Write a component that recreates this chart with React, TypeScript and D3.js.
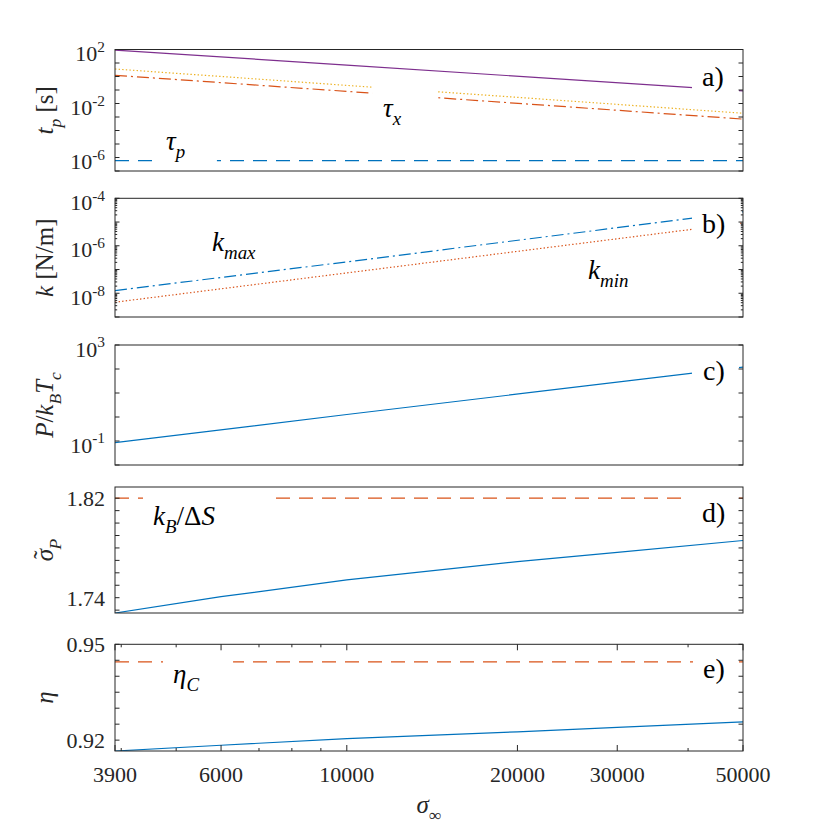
import React from "react";
import * as d3 from "d3";

const W = 831;
const H = 831;
const X_LEFT = 115;
const X_RIGHT = 743;

const BLUE = "#0072BD";
const ORANGE = "#D95319";
const YELLOW = "#EDB120";
const PURPLE = "#7E2F8E";
const AXIS = "#262626";
const FONT = "'Liberation Serif', 'Times New Roman', 'DejaVu Serif', serif";

const SIGMA_DOMAIN = [3900, 50000];
const SIGMA_TICKS = [3900, 6000, 10000, 20000, 30000, 50000];
const SIGMA_MINOR = [4000, 5000, 7000, 8000, 9000, 40000];

// a) time scales
const sigmaA = [3900, 10000, 50000];
const tauTotal = [91, 7.0, 0.085];
const tauXUpper = [3.6, 0.22, 0.0019];
const tauXLower = [1.23, 0.079, 0.0007];
const tauP = [5.8e-7, 5.8e-7, 5.8e-7];

// b) stiffness
const sigmaB = [3900, 10000, 50000];
const kMax = [1.3e-8, 2.1e-7, 2.7e-5];
const kMin = [4.2e-9, 7.2e-8, 9.2e-6];

// c) power
const sigmaC = [3900, 10000, 50000];
const power = [0.085, 1.27, 120];

// d) sigma_P and e) efficiency
const sigmaDE = [3900, 6000, 10000, 20000, 30000, 50000];
const sigmaP = [1.7277, 1.7408, 1.7543, 1.769, 1.7764, 1.786];
const kBoverDS = [1.82, 1.82, 1.82, 1.82, 1.82, 1.82];
const eta = [0.9166, 0.9184, 0.9205, 0.9226, 0.924, 0.9257];
const etaC = [0.9445, 0.9445, 0.9445, 0.9445, 0.9445, 0.9445];

// sigma ranges hidden behind the white label boxes
const GAP_TAU_P = [[4550, 5900]];
const GAP_TAU_X = [[11080, 14370]];
const GAP_CORNER = [[40640, 49200]];
const GAP_KB_DS = [[4370, 7260], [40320, 49200]];
const GAP_ETA_C = [[4740, 6300], [40810, 49200]];

// [text, style, dx]
type Part = [string, string?, number?];

const mathText = (sel: any, parts: Part[], size: number) => {
  let shift = 0;
  parts.forEach(([t, s = "r", dx = 0]) => {
    const sub = s === "sub" || s === "subr";
    const small = sub || s === "sup";
    const target = sub ? size * 0.3 : s === "sup" ? -size * 0.42 : s === "acc" ? -size * 0.08 : 0;
    sel
      .append("tspan")
      .attr("dx", dx)
      .attr("dy", target - shift)
      .attr("font-size", small ? size * 0.7 : size)
      .attr("font-style", s === "i" || s === "sub" ? "italic" : "normal")
      .text(t);
    shift = target;
  });
};

const App = () => {
  const ref = React.useRef<SVGSVGElement>(null);

  React.useEffect(() => {
    const svg = d3.select(ref.current!);
    svg.selectAll("*").remove();

    const x = d3.scaleLog().domain(SIGMA_DOMAIN).range([X_LEFT, X_RIGHT]);

    const zip = (xs: number[], ys: number[]) => xs.map((s, i) => [s, ys[i]]);

    const panels = [
      {
        id: "a",
        top: 49.5,
        bottom: 171,
        y: d3.scaleLog().domain([1e-7, 1e2]),
        major: d3.range(-7, 3).map((e) => 10 ** e),
        minor: [] as number[],
        labels: [2, -2, -6].map((e) => ({ v: 10 ** e, main: "10", sup: String(e) })),
        ylabel: [["t", "i"], ["p", "sub"], [" [s]"]] as Part[],
        series: [
          { d: zip(sigmaA, tauTotal), color: PURPLE, dash: null, gaps: GAP_CORNER },
          { d: zip(sigmaA, tauXUpper), color: YELLOW, dash: "1.4 2.2", gaps: GAP_TAU_X },
          { d: zip(sigmaA, tauXLower), color: ORANGE, dash: "12 4 2 4", gaps: GAP_TAU_X },
          { d: zip(sigmaA, tauP), color: BLUE, dash: "14 9", gaps: GAP_TAU_P },
        ],
        notes: [
          { x: 166, y: 150, parts: [["τ", "i"], ["p", "sub"]] as Part[] },
          { x: 383, y: 117, parts: [["τ", "i"], ["x", "sub"]] as Part[] },
          { x: 702, y: 86, parts: [["a)"]] as Part[] },
        ],
      },
      {
        id: "b",
        top: 198.3,
        bottom: 317,
        y: d3.scaleLog().domain([1e-9, 1e-4]),
        major: d3.range(-9, -3).map((e) => 10 ** e),
        minor: d3.range(-9, -4).flatMap((e) => d3.range(2, 10).map((m) => m * 10 ** e)),
        labels: [-4, -6, -8].map((e) => ({ v: 10 ** e, main: "10", sup: String(e) })),
        ylabel: [["k", "i"], [" [N/m]"]] as Part[],
        series: [
          { d: zip(sigmaB, kMax), color: BLUE, dash: "12 4 2 4", gaps: GAP_CORNER },
          { d: zip(sigmaB, kMin), color: ORANGE, dash: "1.4 2.2", gaps: GAP_CORNER },
        ],
        notes: [
          { x: 212, y: 250.5, parts: [["k", "i"], ["max", "sub"]] as Part[] },
          { x: 588, y: 279, parts: [["k", "i"], ["min", "sub"]] as Part[] },
          { x: 702, y: 233, parts: [["b)"]] as Part[] },
        ],
      },
      {
        id: "c",
        top: 345,
        bottom: 465,
        y: d3.scaleLog().domain([1e-2, 1e3]),
        major: d3.range(-2, 4).map((e) => 10 ** e),
        minor: [] as number[],
        labels: [3, -1].map((e) => ({ v: 10 ** e, main: "10", sup: String(e) })),
        ylabel: [["P", "i"], ["/"], ["k", "i"], ["B", "sub"], ["T", "i"], ["c", "sub"]] as Part[],
        series: [{ d: zip(sigmaC, power), color: BLUE, dash: null, gaps: GAP_CORNER }],
        notes: [{ x: 703, y: 380, parts: [["c)"]] as Part[] }],
      },
      {
        id: "d",
        top: 487,
        bottom: 613,
        y: d3.scaleLinear().domain([1.7277, 1.829]),
        major: d3.range(1.73, 1.8251, 0.01),
        minor: [] as number[],
        labels: [1.82, 1.74].map((v) => ({ v, main: v.toFixed(2), sup: "" })),
        ylabel: [["σ", "i"], ["˜", "acc", -10], ["P", "sub", 1]] as Part[],
        series: [
          { d: zip(sigmaDE, kBoverDS), color: ORANGE, dash: "14 9", gaps: GAP_KB_DS },
          { d: zip(sigmaDE, sigmaP), color: BLUE, dash: null, gaps: [] as number[][] },
        ],
        notes: [
          { x: 153, y: 525, parts: [["k", "i"], ["B", "sub"], ["/Δ"], ["S", "i"]] as Part[] },
          { x: 702, y: 521.5, parts: [["d)"]] as Part[] },
        ],
      },
      {
        id: "e",
        top: 644.3,
        bottom: 751,
        y: d3.scaleLinear().domain([0.9166, 0.95]),
        major: d3.range(0.92, 0.9501, 0.005),
        minor: [] as number[],
        labels: [0.95, 0.92].map((v) => ({ v, main: v.toFixed(2), sup: "" })),
        ylabel: [["η", "i"]] as Part[],
        series: [
          { d: zip(sigmaDE, etaC), color: ORANGE, dash: "14 9", gaps: GAP_ETA_C },
          { d: zip(sigmaDE, eta), color: BLUE, dash: null, gaps: [] as number[][] },
        ],
        notes: [
          { x: 173, y: 683, parts: [["η", "i"], ["C", "sub"]] as Part[] },
          { x: 703, y: 678, parts: [["e)"]] as Part[] },
        ],
      },
    ];

    const defs = svg.append("defs");

    panels.forEach((p) => {
      const y = p.y.range([p.bottom, p.top]);
      const g = svg.append("g").attr("class", `panel-${p.id}`);

      g.append("rect")
        .attr("x", X_LEFT)
        .attr("y", p.top)
        .attr("width", X_RIGHT - X_LEFT)
        .attr("height", p.bottom - p.top)
        .attr("fill", "white");

      const line = d3
        .line<number[]>()
        .x((d) => x(d[0]))
        .y((d) => y(d[1]));

      p.series.forEach((s, i) => {
        // visible stretches: the axes box minus the label boxes
        const spans: number[][] = [];
        let cur = X_LEFT;
        s.gaps.forEach(([g0, g1]) => {
          spans.push([cur, x(g0)]);
          cur = x(g1);
        });
        spans.push([cur, X_RIGHT]);

        const clipId = `clip-${p.id}-${i}`;
        defs
          .append("clipPath")
          .attr("id", clipId)
          .selectAll("rect")
          .data(spans)
          .enter()
          .append("rect")
          .attr("x", (d) => d[0])
          .attr("y", p.top)
          .attr("width", (d) => d[1] - d[0])
          .attr("height", p.bottom - p.top);

        g.append("path")
          .attr("d", line(s.d))
          .attr("fill", "none")
          .attr("stroke", s.color)
          .attr("stroke-width", 1.2)
          .attr("stroke-dasharray", s.dash)
          .attr("clip-path", `url(#${clipId})`);
      });

      // axes box
      g.append("rect")
        .attr("x", X_LEFT)
        .attr("y", p.top)
        .attr("width", X_RIGHT - X_LEFT)
        .attr("height", p.bottom - p.top)
        .attr("fill", "none")
        .attr("stroke", AXIS)
        .attr("stroke-width", 1);

      const yTick = (vals: number[], len: number) =>
        g
          .append("g")
          .selectAll("path")
          .data(vals)
          .enter()
          .append("path")
          .attr("d", (v) => `M${X_LEFT},${y(v)}h${len}M${X_RIGHT},${y(v)}h${-len}`)
          .attr("stroke", AXIS)
          .attr("stroke-width", 1);

      yTick(p.major, 4.5);
      yTick(p.minor, 2.2);

      p.labels.forEach((l) => {
        const t = g
          .append("text")
          .attr("x", 105)
          .attr("y", y(l.v) + (l.sup ? 11.5 : 8))
          .attr("text-anchor", "end")
          .attr("font-family", FONT)
          .attr("font-size", 22)
          .attr("fill", AXIS);
        if (l.sup) mathText(t, [[l.main], [l.sup, "sup"]], 22);
        else t.text(l.main);
      });

      const yl = g
        .append("text")
        .attr("transform", `translate(53, ${(p.top + p.bottom) / 2}) rotate(-90)`)
        .attr("text-anchor", "middle")
        .attr("font-family", FONT)
        .attr("fill", AXIS);
      mathText(yl, p.ylabel, 25);

      p.notes.forEach((n) => {
        const t = g
          .append("text")
          .attr("x", n.x)
          .attr("y", n.y)
          .attr("font-family", FONT)
          .attr("fill", "black");
        mathText(t, n.parts, n.parts.length === 1 ? 28 : 27);
      });

      if (p.id === "e") {
        const xTick = (vals: number[], len: number) =>
          g
            .append("g")
            .selectAll("path")
            .data(vals)
            .enter()
            .append("path")
            .attr("d", (v) => `M${x(v)},${p.bottom}v${-len}M${x(v)},${p.top}v${len}`)
            .attr("stroke", AXIS)
            .attr("stroke-width", 1);
        xTick(SIGMA_TICKS, 6);
        xTick(SIGMA_MINOR, 3);

        g.append("g")
          .selectAll("text")
          .data(SIGMA_TICKS)
          .enter()
          .append("text")
          .attr("x", (v) => x(v))
          .attr("y", p.bottom + 31)
          .attr("text-anchor", "middle")
          .attr("font-family", FONT)
          .attr("font-size", 22)
          .attr("fill", AXIS)
          .text((v) => String(v));

        const xl = g
          .append("text")
          .attr("x", (X_LEFT + X_RIGHT) / 2)
          .attr("y", 813)
          .attr("text-anchor", "middle")
          .attr("font-family", FONT)
          .attr("fill", AXIS);
        mathText(xl, [["σ", "i"], ["∞", "subr"]], 25);
      }
    });
  }, []);

  return (
    <svg
      ref={ref}
      width={W}
      height={H}
      style={{ position: "absolute", left: 0, top: 0, background: "white" }}
    />
  );
};

export default App;
